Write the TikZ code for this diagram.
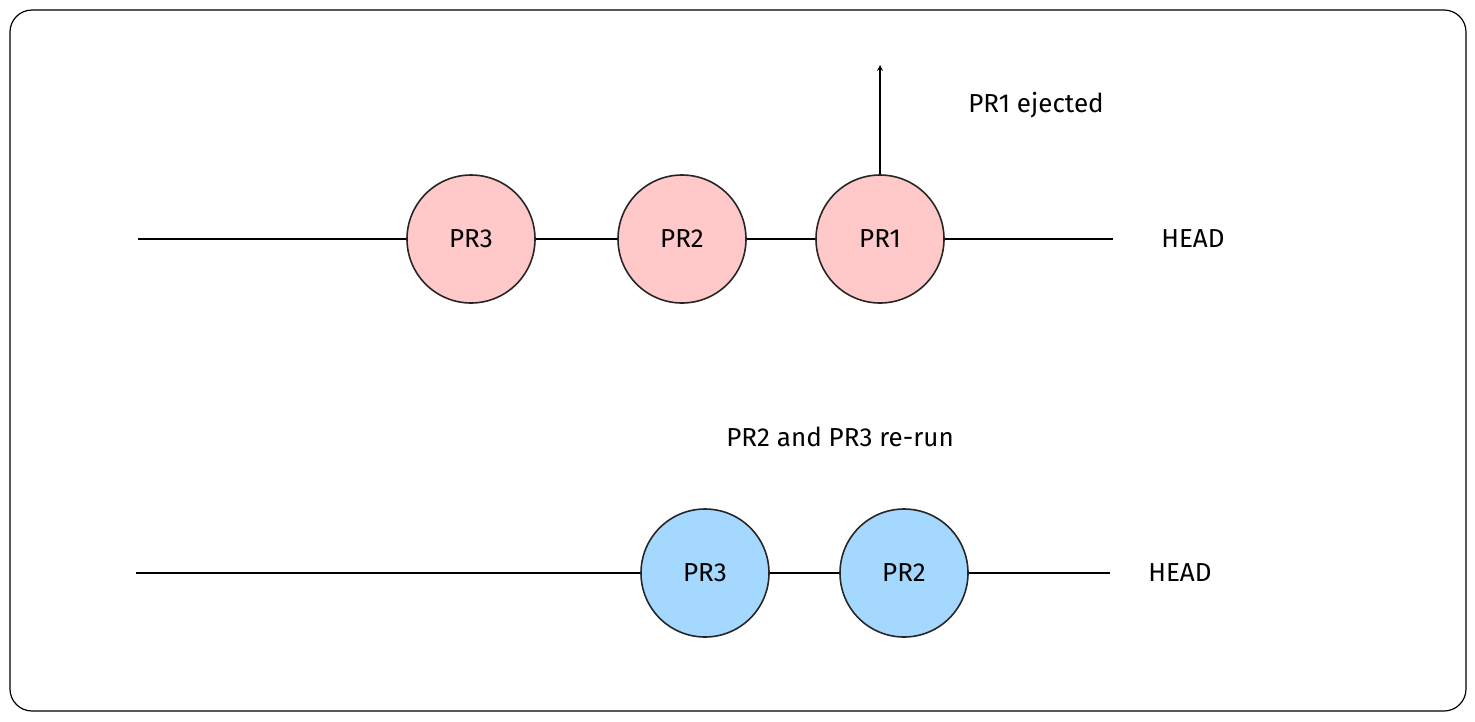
\documentclass[tikz,border=0pt]{standalone}
\usepackage{fontspec}
\setmainfont{Fira Sans}
\begin{document}
\begin{tikzpicture}[x=1pt,y=-1pt,line width=1.6pt,
  pr/.style={circle,draw=black!85,minimum size=128pt,inner sep=0pt,font=\fontsize{26}{30}\selectfont},
  red/.style={pr,fill=red!21!white},
  blue/.style={pr,fill={rgb,255:red,165;green,216;blue,255}},
  lbl/.style={font=\fontsize{26}{30}\selectfont}]
\useasboundingbox (0,0) rectangle (1475,721);
\draw[line width=1.2pt,rounded corners=22pt] (10,10) rectangle (1466,711);
\coordinate (l1) at (138,239); \coordinate (r1) at (1113,239);
\coordinate (l2) at (136,573); \coordinate (r2) at (1110,573);
\draw (l1) -- (r1);
\draw (l2) -- (r2);
\node[red] (a3) at (471,239) {PR3};
\node[red] (a2) at (682,239) {PR2};
\node[red] (a1) at (880,239) {PR1};
\node[blue] (b3) at (705,573) {PR3};
\node[blue] (b2) at (904,573) {PR2};
\coordinate (up) at (880,65);
\draw[-stealth] (a1.north) -- (up);
\node[lbl] (ej) at (1036,105) {PR1 ejected};
\node[lbl] (h1) at (1193,239) {HEAD};
\node[lbl] (h2) at (1180,573) {HEAD};
\node[lbl] (rr) at (840,437) {PR2 and PR3 re-run};
\end{tikzpicture}
\end{document}
